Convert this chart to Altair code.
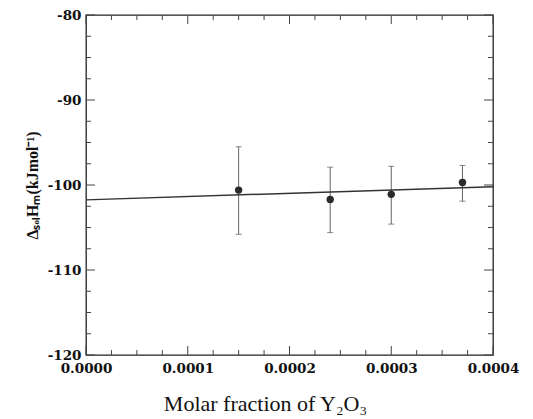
import altair as alt
import pandas as pd

# data
frac = [0.00015, 0.00024, 0.00030, 0.00037]
dH = [-100.6, -101.7, -101.1, -99.7]
err_hi = [-95.5, -97.9, -97.8, -97.7]
err_lo = [-105.8, -105.6, -104.6, -101.9]

fit_x = [0.0, 0.0004]
fit_y = [-101.75, -100.2]

y_major = [-120, -110, -100, -90, -80]
y_minor = [-117.5, -115, -112.5, -107.5, -105, -102.5, -97.5, -95, -92.5, -87.5, -85, -82.5]
x_major = [0.0, 0.0001, 0.0002, 0.0003, 0.0004]
x_minor = [0.000025, 0.00005, 0.000075, 0.000125, 0.00015, 0.000175,
           0.000225, 0.00025, 0.000275, 0.000325, 0.00035, 0.000375]

W, H = 407, 340

pts = pd.DataFrame({"x": frac, "y": dH, "hi": err_hi, "lo": err_lo})
fit = pd.DataFrame({"x": fit_x, "y": fit_y})

xs = alt.Scale(domain=[0, 0.0004], nice=False, zero=False)
ys = alt.Scale(domain=[-120, -80], nice=False, zero=False)

xax = alt.Axis(values=x_major, format=".4f", ticks=False, domain=False, grid=False,
               labelFont="DejaVu Serif", labelFontWeight="bold", labelFontSize=13.5,
               labelColor="#111", labelPadding=6, labelFlush=False,
               title="Molar fraction of Y₂O₃", titleFont="Liberation Serif",
               titleFontWeight="normal", titleFontSize=22, titleColor="#111",
               titleX=179, titleY=48, titleAnchor="middle", titleBaseline="middle")
yax = alt.Axis(values=y_major, labelExpr="'' + datum.value", ticks=False, domain=False, grid=False,
               labelFont="DejaVu Serif", labelFontWeight="bold", labelFontSize=13.5,
               labelColor="#111", labelPadding=5, labelFlush=False,
               title="ΔₛₒₗHₘ(kJmol⁻¹)", titleFont="Liberation Serif",
               titleFontWeight="bold", titleFontSize=16, titleColor="#111",
               titlePadding=7)

base = alt.Chart(pts)

points = base.mark_point(filled=True, size=55, color="#2a2a2a", opacity=1).encode(
    x=alt.X("x:Q", scale=xs, axis=xax),
    y=alt.Y("y:Q", scale=ys, axis=yax),
)
bars = base.mark_rule(color="#666", strokeWidth=1).encode(
    x=alt.X("x:Q", scale=xs), y=alt.Y("lo:Q", scale=ys), y2="hi:Q")
cap_hi = base.mark_tick(orient="horizontal", size=6, thickness=1, color="#555").encode(
    x=alt.X("x:Q", scale=xs), y=alt.Y("hi:Q", scale=ys))
cap_lo = base.mark_tick(orient="horizontal", size=6, thickness=1, color="#555").encode(
    x=alt.X("x:Q", scale=xs), y=alt.Y("lo:Q", scale=ys))

line = alt.Chart(fit).mark_line(color="#333", strokeWidth=1.5).encode(
    x=alt.X("x:Q", scale=xs), y=alt.Y("y:Q", scale=ys))

def yticks(vals, length):
    d = pd.DataFrame({"v": vals})
    c = alt.Chart(d)
    left = c.mark_rule(color="#444", strokeWidth=1).encode(
        y=alt.Y("v:Q", scale=ys), x=alt.value(0), x2=alt.value(length))
    right = c.mark_rule(color="#444", strokeWidth=1).encode(
        y=alt.Y("v:Q", scale=ys), x=alt.value(W), x2=alt.value(W - length))
    return left + right

def xticks(vals, length):
    d = pd.DataFrame({"v": vals})
    c = alt.Chart(d)
    bot = c.mark_rule(color="#444", strokeWidth=1).encode(
        x=alt.X("v:Q", scale=xs), y=alt.value(H), y2=alt.value(H - length))
    top = c.mark_rule(color="#444", strokeWidth=1).encode(
        x=alt.X("v:Q", scale=xs), y=alt.value(0), y2=alt.value(length))
    return bot + top

chart = alt.layer(
    yticks(y_major, 9), yticks(y_minor, 5), xticks(x_major, 9), xticks(x_minor, 5),
    bars, cap_hi, cap_lo, line, points,
).properties(
    width=W, height=H,
    padding={"left": 78, "top": 7, "right": 30, "bottom": 60},
    autosize=alt.AutoSizeParams(type="none"),
    background="white",
).configure_view(stroke="#222", strokeWidth=1.3)

chart.save("out.html", embed_options={"renderer": "svg", "actions": False})
